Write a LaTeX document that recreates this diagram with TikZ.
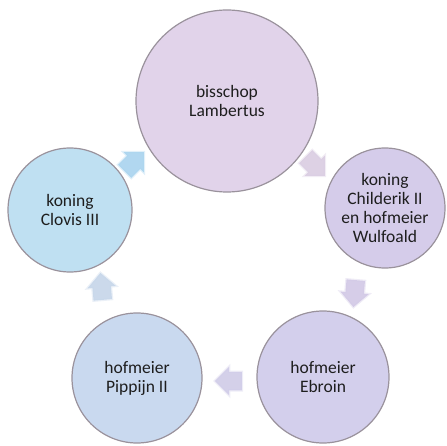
\documentclass[tikz,border=0pt]{standalone}
\usepackage{fontspec}
\setmainfont{Carlito}
\usetikzlibrary{shapes.arrows}

\definecolor{rimgray}{HTML}{9A929C}
\definecolor{textgray}{HTML}{1E1E1E}
\definecolor{lambertfill}{HTML}{E1D3EA}
\definecolor{childerikfill}{HTML}{D5CCEA}
\definecolor{ebroinfill}{HTML}{D3CFEC}
\definecolor{pippijnfill}{HTML}{C9D9EF}
\definecolor{clovisfill}{HTML}{BFE0F2}
\definecolor{clovisturn}{HTML}{A9D3EE}

\begin{document}
\begin{tikzpicture}[
    x=1pt, y=1pt,
    station/.style={
      circle, draw=rimgray, line width=1.2pt, inner sep=0pt,
      fill=#1, align=center, text=textgray,
      font=\fontsize{17.5}{19}\selectfont,
    },
    turn/.style={
      single arrow, draw=#1, line width=2.5pt, draw opacity=0.35,
      fill=#1, fill opacity=0.9,
      inner xsep=0pt, inner ysep=8pt, minimum height=27pt,
      single arrow head extend=5pt,
    },
  ]
  \path[use as bounding box] (0, 0) rectangle (447, 445);

  % the five stations
  \node[station=lambertfill, minimum size=182pt]
    (lambert) at (227, 344) {bisschop\\Lambertus};
  \node[station=childerikfill, minimum size=120pt]
    (childerik) at (385, 237) {koning\\Childerik II\\en hofmeier\\Wulfoald};
  \node[station=ebroinfill, minimum size=132pt]
    (ebroin) at (323, 68) {hofmeier\\Ebroin};
  \node[station=pippijnfill, minimum size=130pt]
    (pippijn) at (137, 67) {hofmeier\\Pippijn II};
  \node[station=clovisfill, minimum size=124pt]
    (clovis) at (70, 235) {koning\\Clovis III};

  % the arrows between them
  \node[turn=lambertfill!92!gray, rotate=-45] (turnA) at (312, 282) {};
  \node[turn=childerikfill!95!gray, rotate=-95] (turnB) at (355, 156) {};
  \node[turn=ebroinfill!95!gray, rotate=180] (turnC) at (233, 64) {};
  \node[turn=pippijnfill!95!gray, rotate=95] (turnD) at (102, 154) {};
  \node[turn=clovisturn, rotate=45] (turnE) at (131, 280) {};

\end{tikzpicture}
\end{document}
